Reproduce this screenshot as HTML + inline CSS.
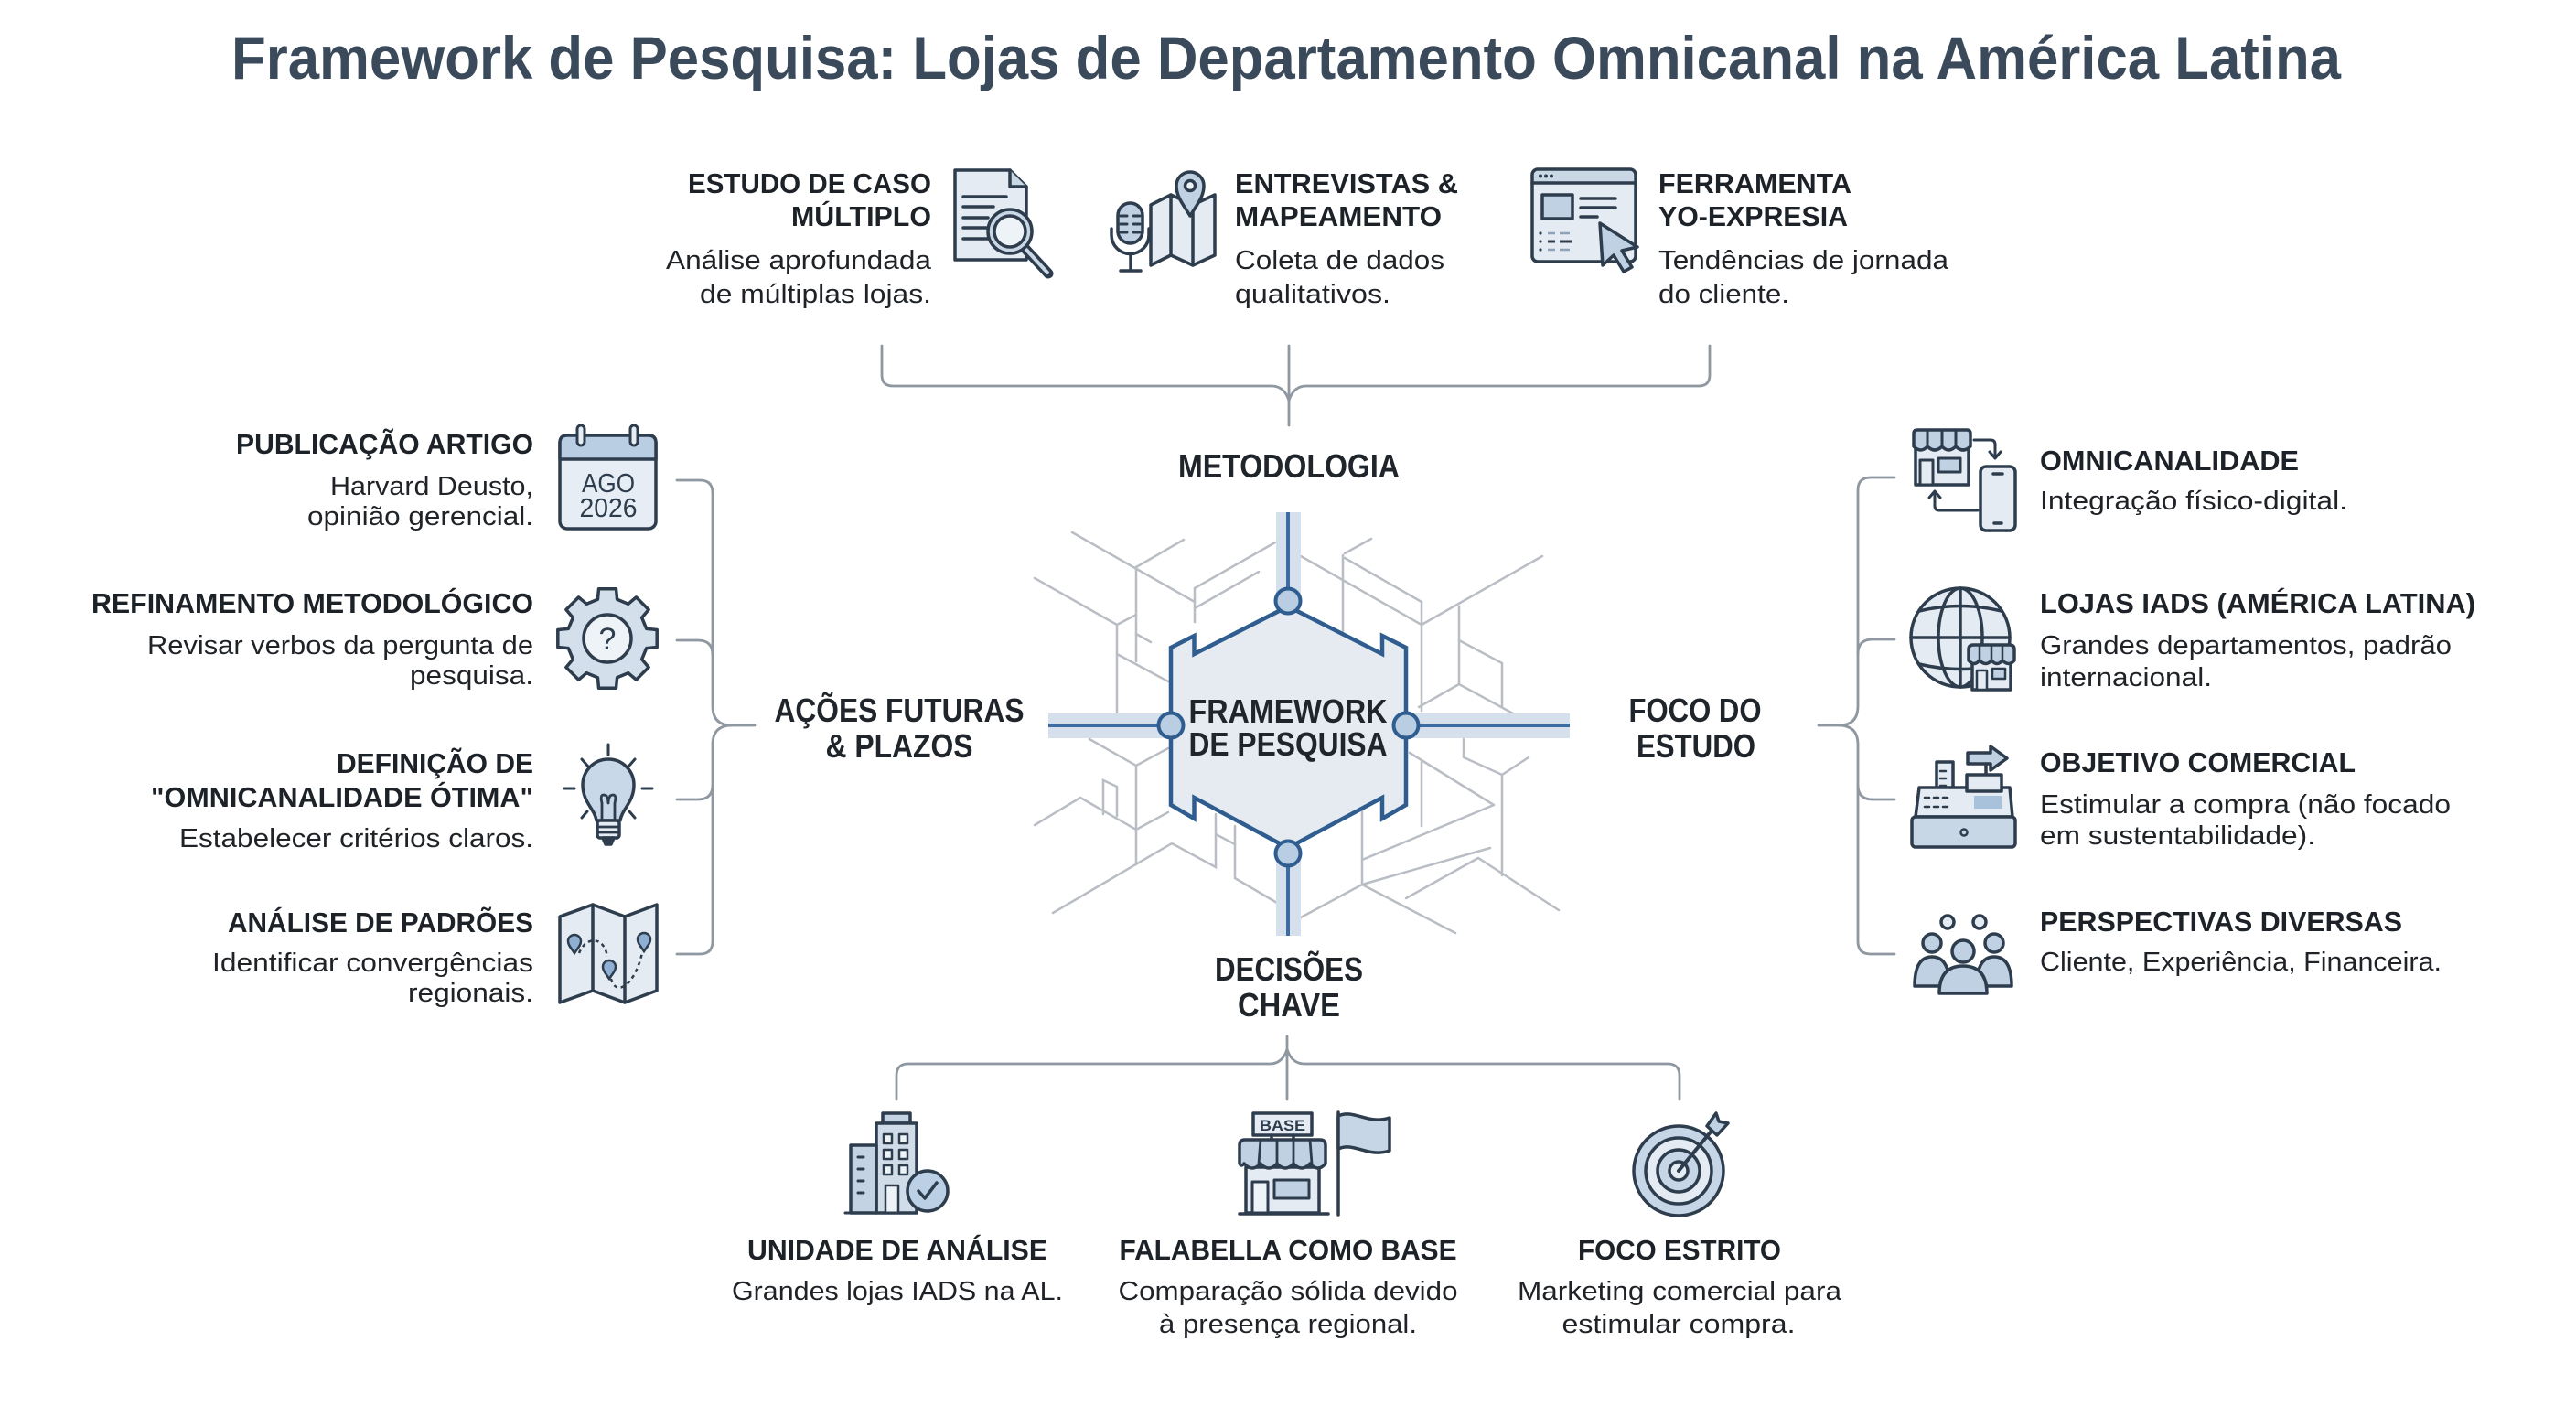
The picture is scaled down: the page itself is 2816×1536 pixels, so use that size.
<!DOCTYPE html>
<html>
<head>
<meta charset="utf-8">
<style>
  html,body{margin:0;padding:0;background:#ffffff;}
  svg{display:block;}
  text{font-family:"Liberation Sans",Arial,sans-serif;}
  .t{font-weight:700;font-size:31px;fill:#1d2228;}
  .b{font-weight:400;font-size:29px;fill:#1f2327;}
  .c{font-weight:700;font-size:36px;fill:#1f252b;}
  .ic{stroke:#2e3d4d;stroke-width:3.5;stroke-linejoin:round;stroke-linecap:round;}
  .ln{stroke:#2e3d4d;stroke-width:3.5;stroke-linecap:round;fill:none;}
  .cir{stroke:#b9bec5;stroke-width:2.5;fill:none;stroke-linecap:round;}
  .br{stroke:#8f98a1;stroke-width:2.8;fill:none;stroke-linecap:round;stroke-linejoin:round;}
</style>
</head>
<body>
<svg width="2816" height="1536" viewBox="0 0 2816 1536" xmlns="http://www.w3.org/2000/svg">
<rect width="2816" height="1536" fill="#ffffff"/>

<!-- Title -->
<text x="1406" y="86" text-anchor="middle" font-size="66" font-weight="700" fill="#3b4a5b" textLength="2306" lengthAdjust="spacingAndGlyphs">Framework de Pesquisa: Lojas de Departamento Omnicanal na América Latina</text>

<!-- ===== Braces ===== -->
<path class="br" d="M964,378 V410 Q964,422 976,422 H1390 Q1404,422 1409,438 Q1414,422 1428,422 H1857 Q1869,422 1869,410 V378"/>
<path class="br" d="M1409,378 V465"/>

<path class="br" d="M740,525 H765 Q779,525 779,539 V772 Q779,793 800,793 H825"/>
<path class="br" d="M800,793 Q779,793 779,814 V1029 Q779,1043 765,1043 H740"/>
<path class="br" d="M740,700 H763 Q779,700 779,716"/>
<path class="br" d="M740,874 H763 Q779,874 779,858"/>

<path class="br" d="M2071,522 H2045 Q2031,522 2031,536 V772 Q2031,793 2010,793 H1988"/>
<path class="br" d="M2010,793 Q2031,793 2031,814 V1029 Q2031,1043 2045,1043 H2071"/>
<path class="br" d="M2071,699 H2047 Q2031,699 2031,715"/>
<path class="br" d="M2071,874 H2047 Q2031,874 2031,858"/>

<path class="br" d="M980,1202 V1176 Q980,1163 993,1163 H1388 Q1402,1163 1407,1147 Q1412,1163 1426,1163 H1823 Q1836,1163 1836,1176 V1202"/>
<path class="br" d="M1407,1133 V1202"/>

<!-- ===== Circuit lines ===== -->
<g class="cir">
<path d="M1172,582 L1306,658"/>
<path d="M1294,590 L1242,620 V723"/>
<path d="M1221,715 L1277,745"/>
<path d="M1131,632 L1221,683 V780"/>
<path d="M1221,683 L1242,672"/>
<path d="M1242,693 L1258,702"/>
<path d="M1306,643 L1394,593"/>
<path d="M1306,643 V680"/>
<path d="M1306,665 L1376,625"/>
<path d="M1470,605 L1499,589"/>
<path d="M1468,607 V693"/>
<path d="M1470,610 L1554,658"/>
<path d="M1422,608 L1554,683"/>
<path d="M1554,658 V777"/>
<path d="M1554,683 L1686,608"/>
<path d="M1595,663 V748"/>
<path d="M1595,700 L1642,725 V773"/>
<path d="M1595,748 L1551,773"/>
<path d="M1595,748 L1654,780"/>

<path d="M1191,808 L1242,837 L1277,818"/>
<path d="M1242,837 V945"/>
<path d="M1206,890 V853 L1221,860 V892"/>
<path d="M1131,902 L1181,872 L1242,907 L1277,888"/>
<path d="M1151,998 L1281,922 L1329,948 V890"/>
<path d="M1350,903 V960 L1396,987"/>
<path d="M1329,912 L1350,923"/>
<path d="M1541,823 L1633,880"/>
<path d="M1554,833 V903"/>
<path d="M1600,808 V828 L1642,847 L1671,828"/>
<path d="M1642,847 V957"/>
<path d="M1489,887 V967 L1591,1020"/>
<path d="M1489,940 L1633,880"/>
<path d="M1422,1003 L1489,967"/>
<path d="M1489,967 L1629,927"/>
<path d="M1537,982 L1616,938 L1704,995"/>
</g>

<!-- ===== Bars ===== -->
<rect x="1395" y="560" width="27" height="100" fill="#d5e0ec"/>
<rect x="1395" y="930" width="27" height="93" fill="#d5e0ec"/>
<rect x="1146" y="780" width="136" height="27" fill="#d5e0ec"/>
<rect x="1535" y="780" width="181" height="27" fill="#d5e0ec"/>
<g stroke="#3c6ca2" stroke-width="4">
<line x1="1408" y1="560" x2="1408" y2="657"/>
<line x1="1408" y1="933" x2="1408" y2="1023"/>
<line x1="1146" y1="793" x2="1280" y2="793"/>
<line x1="1537" y1="793" x2="1716" y2="793"/>
</g>

<!-- Hexagon -->
<path d="M1408,663 L1305.5,715 L1305.5,695 L1280,708 L1280,880 L1305.5,895 L1305.5,872 L1408,927 L1511,872 L1511,895 L1537,880 L1537,708 L1511,695 L1511,715 Z" fill="#e6ebf2" stroke="#2f5d8f" stroke-width="4.5" stroke-linejoin="miter"/>
<g fill="#b9cde3" stroke="#2f5d8f" stroke-width="4">
<circle cx="1408" cy="657" r="13.5"/>
<circle cx="1408" cy="933" r="13.5"/>
<circle cx="1280" cy="793" r="13.5"/>
<circle cx="1537" cy="793" r="13.5"/>
</g>
<text class="c" x="1408" y="790" text-anchor="middle" font-size="37" textLength="217" lengthAdjust="spacingAndGlyphs">FRAMEWORK</text>
<text class="c" x="1408" y="826" text-anchor="middle" font-size="37" textLength="217" lengthAdjust="spacingAndGlyphs">DE PESQUISA</text>

<!-- Category labels -->
<text class="c" x="1409" y="522" text-anchor="middle" textLength="242" lengthAdjust="spacingAndGlyphs">METODOLOGIA</text>
<text class="c" x="983" y="789" text-anchor="middle" textLength="273" lengthAdjust="spacingAndGlyphs">AÇÕES FUTURAS</text>
<text class="c" x="983" y="828" text-anchor="middle" textLength="161" lengthAdjust="spacingAndGlyphs">&amp; PLAZOS</text>
<text class="c" x="1853" y="789" text-anchor="middle" textLength="145" lengthAdjust="spacingAndGlyphs">FOCO DO</text>
<text class="c" x="1854" y="828" text-anchor="middle" textLength="130" lengthAdjust="spacingAndGlyphs">ESTUDO</text>
<text class="c" x="1409" y="1072" text-anchor="middle" textLength="162" lengthAdjust="spacingAndGlyphs">DECISÕES</text>
<text class="c" x="1409" y="1111" text-anchor="middle" textLength="112" lengthAdjust="spacingAndGlyphs">CHAVE</text>

<!-- ===== Top row text ===== -->
<text class="t" x="1018" y="211" text-anchor="end" textLength="266" lengthAdjust="spacingAndGlyphs">ESTUDO DE CASO</text>
<text class="t" x="1018" y="247" text-anchor="end" textLength="153" lengthAdjust="spacingAndGlyphs">MÚLTIPLO</text>
<text class="b" x="1018" y="294" text-anchor="end" textLength="290" lengthAdjust="spacingAndGlyphs">Análise aprofundada</text>
<text class="b" x="1018" y="331" text-anchor="end" textLength="253" lengthAdjust="spacingAndGlyphs">de múltiplas lojas.</text>

<text class="t" x="1350" y="211" textLength="244" lengthAdjust="spacingAndGlyphs">ENTREVISTAS &amp;</text>
<text class="t" x="1350" y="247" textLength="226" lengthAdjust="spacingAndGlyphs">MAPEAMENTO</text>
<text class="b" x="1350" y="294" textLength="229" lengthAdjust="spacingAndGlyphs">Coleta de dados</text>
<text class="b" x="1350" y="331" textLength="170" lengthAdjust="spacingAndGlyphs">qualitativos.</text>

<text class="t" x="1813" y="211" textLength="211" lengthAdjust="spacingAndGlyphs">FERRAMENTA</text>
<text class="t" x="1813" y="247" textLength="207" lengthAdjust="spacingAndGlyphs">YO-EXPRESIA</text>
<text class="b" x="1813" y="294" textLength="317" lengthAdjust="spacingAndGlyphs">Tendências de jornada</text>
<text class="b" x="1813" y="331" textLength="143" lengthAdjust="spacingAndGlyphs">do cliente.</text>

<!-- ===== Left column text ===== -->
<text class="t" x="583" y="496" text-anchor="end" textLength="325" lengthAdjust="spacingAndGlyphs">PUBLICAÇÃO ARTIGO</text>
<text class="b" x="583" y="541" text-anchor="end" textLength="222" lengthAdjust="spacingAndGlyphs">Harvard Deusto,</text>
<text class="b" x="583" y="574" text-anchor="end" textLength="247" lengthAdjust="spacingAndGlyphs">opinião gerencial.</text>

<text class="t" x="583" y="670" text-anchor="end" textLength="483" lengthAdjust="spacingAndGlyphs">REFINAMENTO METODOLÓGICO</text>
<text class="b" x="583" y="715" text-anchor="end" textLength="422" lengthAdjust="spacingAndGlyphs">Revisar verbos da pergunta de</text>
<text class="b" x="583" y="748" text-anchor="end" textLength="135" lengthAdjust="spacingAndGlyphs">pesquisa.</text>

<text class="t" x="583" y="845" text-anchor="end" textLength="215" lengthAdjust="spacingAndGlyphs">DEFINIÇÃO DE</text>
<text class="t" x="583" y="882" text-anchor="end" textLength="418" lengthAdjust="spacingAndGlyphs">"OMNICANALIDADE ÓTIMA"</text>
<text class="b" x="583" y="926" text-anchor="end" textLength="387" lengthAdjust="spacingAndGlyphs">Estabelecer critérios claros.</text>

<text class="t" x="583" y="1019" text-anchor="end" textLength="334" lengthAdjust="spacingAndGlyphs">ANÁLISE DE PADRÕES</text>
<text class="b" x="583" y="1062" text-anchor="end" textLength="351" lengthAdjust="spacingAndGlyphs">Identificar convergências</text>
<text class="b" x="583" y="1095" text-anchor="end" textLength="137" lengthAdjust="spacingAndGlyphs">regionais.</text>

<!-- ===== Right column text ===== -->
<text class="t" x="2230" y="514" textLength="283" lengthAdjust="spacingAndGlyphs">OMNICANALIDADE</text>
<text class="b" x="2230" y="557" textLength="336" lengthAdjust="spacingAndGlyphs">Integração físico-digital.</text>

<text class="t" x="2230" y="670" textLength="476" lengthAdjust="spacingAndGlyphs">LOJAS IADS (AMÉRICA LATINA)</text>
<text class="b" x="2230" y="715" textLength="450" lengthAdjust="spacingAndGlyphs">Grandes departamentos, padrão</text>
<text class="b" x="2230" y="750" textLength="188" lengthAdjust="spacingAndGlyphs">internacional.</text>

<text class="t" x="2230" y="844" textLength="345" lengthAdjust="spacingAndGlyphs">OBJETIVO COMERCIAL</text>
<text class="b" x="2230" y="889" textLength="449" lengthAdjust="spacingAndGlyphs">Estimular a compra (não focado</text>
<text class="b" x="2230" y="923" textLength="301" lengthAdjust="spacingAndGlyphs">em sustentabilidade).</text>

<text class="t" x="2230" y="1018" textLength="396" lengthAdjust="spacingAndGlyphs">PERSPECTIVAS DIVERSAS</text>
<text class="b" x="2230" y="1061" textLength="439" lengthAdjust="spacingAndGlyphs">Cliente, Experiência, Financeira.</text>

<!-- ===== Bottom text ===== -->
<text class="t" x="981" y="1377" text-anchor="middle" textLength="328" lengthAdjust="spacingAndGlyphs">UNIDADE DE ANÁLISE</text>
<text class="b" x="981" y="1421" text-anchor="middle" textLength="362" lengthAdjust="spacingAndGlyphs">Grandes lojas IADS na AL.</text>

<text class="t" x="1408" y="1377" text-anchor="middle" textLength="369" lengthAdjust="spacingAndGlyphs">FALABELLA COMO BASE</text>
<text class="b" x="1408" y="1421" text-anchor="middle" textLength="371" lengthAdjust="spacingAndGlyphs">Comparação sólida devido</text>
<text class="b" x="1408" y="1457" text-anchor="middle" textLength="282" lengthAdjust="spacingAndGlyphs">à presença regional.</text>

<text class="t" x="1836" y="1377" text-anchor="middle" textLength="222" lengthAdjust="spacingAndGlyphs">FOCO ESTRITO</text>
<text class="b" x="1836" y="1421" text-anchor="middle" textLength="354" lengthAdjust="spacingAndGlyphs">Marketing comercial para</text>
<text class="b" x="1835" y="1457" text-anchor="middle" textLength="255" lengthAdjust="spacingAndGlyphs">estimular compra.</text>

<!-- ===== ICONS ===== -->
<!-- Doc + magnifier -->
<g class="ic">
<path d="M1044,186 H1104 L1122,204 V284 H1044 Z" fill="#e4ebf2"/>
<path d="M1104,186 V204 H1122" fill="#c9d7e5"/>
</g>
<g class="ln">
<path d="M1053,215 H1100"/><path d="M1053,226 H1086"/><path d="M1053,238 H1080"/><path d="M1053,249 H1078"/><path d="M1053,261 H1080"/>
</g>
<line x1="1120" y1="271" x2="1146" y2="299" stroke="#2e3d4d" stroke-width="11" stroke-linecap="round"/>
<line x1="1121" y1="272" x2="1145" y2="298" stroke="#c9d7e5" stroke-width="4" stroke-linecap="round"/>
<circle class="ic" cx="1104" cy="253" r="24" fill="#c9d7e5"/>
<circle class="ic" cx="1104" cy="253" r="17" fill="#eef3f8"/>

<!-- Mic + map -->
<g class="ic">
<path d="M1258,224 L1280,213 L1304,224 L1328,213 V279 L1304,290 L1280,279 L1258,290 Z" fill="#e4ebf2"/>
<path d="M1280,213 V279 M1304,224 V290" fill="none"/>
<path d="M1301,236 C1293,223 1286,215 1286,203 A15,15 0 1 1 1316,203 C1316,215 1309,223 1301,236 Z" fill="#bfd1e3"/>
<circle cx="1301" cy="203" r="5.5" fill="#eef3f8"/>
<rect x="1222" y="222" width="27" height="44" rx="13.5" fill="#bfd1e3"/>
<path d="M1225,236 H1232 M1239,236 H1246 M1225,245 H1232 M1239,245 H1246 M1225,254 H1232 M1239,254 H1246" fill="none" stroke-width="3"/>
<path d="M1215,250 V257 A20.5,20.5 0 0 0 1256,257 V250" fill="none"/>
<path d="M1236,278 V295 M1225,296 H1247" fill="none"/>
</g>

<!-- Browser + cursor -->
<rect x="1675" y="185" width="113" height="101" rx="6" fill="#e4ebf2"/>
<path d="M1675,200 V191 Q1675,185 1681,185 H1782 Q1788,185 1788,191 V200 Z" fill="#cad8e6"/>
<g class="ic" fill="none">
<rect x="1675" y="185" width="113" height="101" rx="6"/>
<path d="M1675,200 H1788"/>
<rect x="1686" y="213" width="33" height="26" fill="#bfd1e3"/>
<path d="M1728,217 H1766 M1728,227 H1766 M1728,237 H1746"/>
</g>
<g fill="#2e3d4d"><circle cx="1684" cy="192.5" r="2"/><circle cx="1690" cy="192.5" r="2"/><circle cx="1696" cy="192.5" r="2"/>
<circle cx="1684" cy="255" r="1.6"/><circle cx="1684" cy="264" r="1.6"/><circle cx="1684" cy="273" r="1.6"/></g>
<path d="M1692,255 H1700 M1705,255 H1716 M1692,273 H1700 M1705,273 H1716" stroke="#8fa3b8" stroke-width="2.5"/>
<path d="M1692,264 H1700 M1705,264 H1718" stroke="#2e3d4d" stroke-width="3"/>
<path class="ic" d="M1749,244 L1790,270 L1773,274 L1784,292 L1775,297 L1764,279 L1752,290 Z" fill="#bfd1e3"/>

<!-- Calendar -->
<g class="ic">
<rect x="612" y="476" width="105" height="102" rx="8" fill="#e6edf4"/>
<path d="M612,502 V484 Q612,476 620,476 H709 Q717,476 717,484 V502 Z" fill="#b9cee3"/>
<rect x="631" y="465" width="8" height="22" rx="4" fill="#e6edf4" stroke-width="3"/>
<rect x="689" y="465" width="8" height="22" rx="4" fill="#e6edf4" stroke-width="3"/>
</g>
<text x="665" y="538" text-anchor="middle" font-size="29" fill="#2e3d4d" textLength="58" lengthAdjust="spacingAndGlyphs">AGO</text>
<text x="665" y="565" text-anchor="middle" font-size="29" fill="#2e3d4d" textLength="63" lengthAdjust="spacingAndGlyphs">2026</text>

<!-- Gear -->
<polygon class="ic" fill="#d3dfeb" points="706.7,687.4 718.2,688.5 718.2,707.5 706.7,708.6 701.7,720.7 709.1,729.5 695.5,743.1 686.7,735.7 674.6,740.7 673.5,752.2 654.5,752.2 653.4,740.7 641.3,735.7 632.5,743.1 618.9,729.5 626.3,720.7 621.3,708.6 609.8,707.5 609.8,688.5 621.3,687.4 626.3,675.3 618.9,666.5 632.5,652.9 641.3,660.3 653.4,655.3 654.5,643.8 673.5,643.8 674.6,655.3 686.7,660.3 695.5,652.9 709.1,666.5 701.7,675.3"/>
<circle class="ic" cx="664" cy="698" r="26" fill="#eef3f8"/>
<text x="664" y="710" text-anchor="middle" font-size="34" fill="#2e3d4d">?</text>

<!-- Bulb -->
<g class="ic">
<path d="M652,897 C650,884 637,877 637,858 A28,28 0 1 1 693,858 C693,877 680,884 678,897 Z" fill="#c8d8e8"/>
<path d="M658,897 V878 M672,897 V878 M658,878 Q655,866 663,870 Q665,874 665,878 Q665,874 667,870 Q675,866 672,878" fill="none" stroke-width="2.8"/>
<rect x="653" y="897" width="24" height="19" rx="3" fill="#e4ebf2"/>
<path d="M654,904 H676 M654,910 H676" fill="none" stroke-width="2.8"/>
<path d="M659,916 H671 L668,923 H662 Z" fill="#2e3d4d"/>
<path d="M665,814 V825 M636,830 L643,838 M694,830 L687,838 M617,862 H628 M702,862 H713 M636,894 L642,887 M694,894 L688,887" fill="none" stroke-width="3"/>
</g>

<!-- Map -->
<g class="ic">
<path d="M612,1002 L648,989 L683,1002 L718,989 V1083 L683,1096 L648,1083 L612,1096 Z" fill="#e4ebf2"/>
<path d="M648,989 V1083 M683,1002 V1096" fill="none"/>
</g>
<path d="M633,1042 C640,1024 660,1022 664,1046 M668,1070 C672,1088 692,1082 702,1042" stroke="#2e3d4d" stroke-width="2.5" stroke-dasharray="4 4" fill="none"/>
<g stroke="#2e3d4d" stroke-width="2.5" fill="#8fb0d3">
<path d="M628,1042 C624,1036 621,1033 621,1029 A7,7 0 1 1 635,1029 C635,1033 632,1036 628,1042 Z"/>
<path d="M704,1040 C700,1034 697,1031 697,1027 A7,7 0 1 1 711,1027 C711,1031 708,1034 704,1040 Z"/>
<path d="M666,1070 C662,1064 659,1061 659,1057 A7,7 0 1 1 673,1057 C673,1061 670,1064 666,1070 Z"/>
</g>

<!-- Omnichannel (store + phone) -->
<g class="ic">
<rect x="2094" y="488" width="58" height="42" fill="#e4ebf2"/>
<path d="M2092,488 V474 Q2092,470 2096,470 H2150 Q2154,470 2154,474 V488 Q2146,496 2138,488 Q2130,496 2123,488 Q2115,496 2107,488 Q2100,496 2092,488 Z" fill="#bfd1e3"/>
<path d="M2107,470 V488 M2123,470 V488 M2138,470 V488" fill="none" stroke-width="3"/>
<rect x="2099" y="503" width="14" height="27" fill="#e4ebf2" stroke-width="3"/>
<rect x="2119" y="501" width="24" height="15" fill="#bfd1e3" stroke-width="3"/>
<rect x="2165" y="510" width="38" height="70" rx="6" fill="#e4ebf2"/>
<path d="M2179,518 H2189 M2180,572 H2188" fill="none"/>
<path d="M2158,481 H2176 Q2181,481 2181,486 V500 M2175,494 L2181,501 L2187,494" fill="none" stroke-width="3"/>
<path d="M2162,558 H2120 Q2115,558 2115,553 V538 M2109,544 L2115,537 L2121,544" fill="none" stroke-width="3"/>
</g>

<!-- Globe + store -->
<g class="ic" fill="none">
<circle cx="2143" cy="697" r="54" fill="#e4ebf2"/>
<ellipse cx="2143" cy="697" rx="24" ry="54"/>
<path d="M2143,643 V751 M2089,697 H2197 M2098,668 Q2143,657 2188,668 M2098,726 Q2143,737 2188,726"/>
</g>
<g class="ic">
<rect x="2156" y="722" width="42" height="32" fill="#e4ebf2"/>
<path d="M2152,722 V710 Q2152,705 2157,705 H2197 Q2202,705 2202,710 V722 Q2196,729 2189,722 Q2183,729 2177,722 Q2171,729 2164,722 Q2158,729 2152,722 Z" fill="#bfd1e3"/>
<path d="M2164,705 V722 M2177,705 V722 M2189,705 V722" fill="none" stroke-width="2.5"/>
<rect x="2161" y="733" width="11" height="21" fill="#e4ebf2" stroke-width="2.5"/>
<rect x="2178" y="731" width="14" height="11" fill="#bfd1e3" stroke-width="2.5"/>
</g>

<!-- Cash register -->
<g class="ic">
<path d="M2151,823 H2176 V816 L2194,829 L2176,842 V835 H2151 Z" fill="#bfd1e3"/>
<path d="M2171,835 V850" fill="none"/>
<rect x="2117" y="833" width="18" height="38" fill="#e4ebf2"/>
<path d="M2094,893 L2098,861 H2197 L2200,893 Z" fill="#e4ebf2"/>
<rect x="2150" y="847" width="38" height="18" fill="#e4ebf2"/>
<rect x="2090" y="893" width="113" height="33" rx="4" fill="#c8d7e6"/>
<circle cx="2147" cy="910" r="3.5" fill="none" stroke-width="2.5"/>
<path d="M2121,843 H2127 M2121,851 H2127 M2121,859 H2127 M2104,872 H2109 M2114,872 H2119 M2124,872 H2129 M2104,882 H2109 M2114,882 H2119 M2124,882 H2129" fill="none" stroke-width="2.5"/>
</g>
<rect x="2158" y="870" width="30" height="14" fill="#a9c2dc"/>

<!-- People -->
<g class="ic" fill="#bfd1e3">
<circle cx="2129" cy="1008" r="7" fill="#e4ebf2"/>
<circle cx="2164" cy="1008" r="7" fill="#e4ebf2"/>
<path d="M2093,1078 Q2093,1046 2112,1046 Q2131,1046 2131,1078 Z"/>
<circle cx="2112" cy="1031" r="10"/>
<path d="M2161,1078 Q2161,1046 2180,1046 Q2199,1046 2199,1078 Z"/>
<circle cx="2180" cy="1031" r="10"/>
<path d="M2120,1086 Q2120,1056 2146,1056 Q2172,1056 2172,1086 Z"/>
<circle cx="2146" cy="1040" r="12"/>
</g>

<!-- Building + check -->
<g class="ic">
<rect x="965" y="1217" width="30" height="11" fill="#c3d3e3"/>
<rect x="958" y="1228" width="44" height="98" fill="#d0dde9"/>
<rect x="930" y="1252" width="28" height="74" fill="#c3d3e3"/>
<g fill="#eef3f8" stroke-width="2.5">
<rect x="966" y="1240" width="9" height="10"/><rect x="983" y="1240" width="9" height="10"/>
<rect x="966" y="1257" width="9" height="10"/><rect x="983" y="1257" width="9" height="10"/>
<rect x="966" y="1274" width="9" height="10"/><rect x="983" y="1274" width="9" height="10"/>
</g>
<rect x="968" y="1296" width="14" height="30" fill="#eef3f8" stroke-width="2.5"/>
<path d="M938,1265 H944 M938,1278 H944 M938,1291 H944 M938,1304 H944 M924,1326 H1000" fill="none" stroke-width="3"/>
<circle cx="1014" cy="1302" r="22" fill="#bcd0e5"/>
<path d="M1004,1302 L1011,1310 L1024,1293" fill="none"/>
</g>

<!-- Store BASE + flag -->
<g class="ic">
<rect x="1370" y="1217" width="64" height="24" fill="#e4ebf2"/>
<path d="M1390,1241 V1246 M1414,1241 V1246" fill="none"/>
<rect x="1362" y="1276" width="80" height="50" fill="#e4ebf2"/>
<path d="M1355,1272 V1252 Q1355,1246 1361,1246 H1443 Q1449,1246 1449,1252 V1272 Q1441,1282 1432,1272 Q1423,1282 1414,1272 Q1405,1282 1396,1272 Q1387,1282 1378,1272 Q1369,1282 1360,1272 Q1357,1276 1355,1272 Z" fill="#bfd1e3"/>
<path d="M1378,1246 L1376,1272 M1396,1246 V1272 M1414,1246 V1272 M1432,1246 L1434,1272" fill="none" stroke-width="2.8"/>
<rect x="1369" y="1292" width="17" height="34" fill="#eef3f8" stroke-width="3"/>
<rect x="1393" y="1290" width="38" height="20" fill="#bfd1e3" stroke-width="3"/>
<path d="M1355,1327 H1452 M1463,1216 V1328" fill="none"/>
<path d="M1463,1220 C1480,1212 1495,1230 1519,1222 V1258 C1495,1266 1480,1248 1463,1256 Z" fill="#c7d6e6"/>
</g>
<text x="1402" y="1236" text-anchor="middle" font-size="17" font-weight="700" fill="#2e3d4d" textLength="50" lengthAdjust="spacingAndGlyphs">BASE</text>

<!-- Target -->
<g class="ic">
<circle cx="1835" cy="1280" r="49" fill="#c7d6e6"/>
<circle cx="1835" cy="1280" r="36" fill="#e4ebf2"/>
<circle cx="1835" cy="1280" r="23" fill="#c7d6e6"/>
<circle cx="1835" cy="1280" r="10" fill="#e4ebf2"/>
<path d="M1835,1280 L1872,1235" fill="none" stroke-width="4"/>
<path d="M1866,1231 L1876,1217 L1879,1226 L1889,1228 L1877,1241 Z" fill="#bfd1e3"/>
</g>

</svg>
</body>
</html>
